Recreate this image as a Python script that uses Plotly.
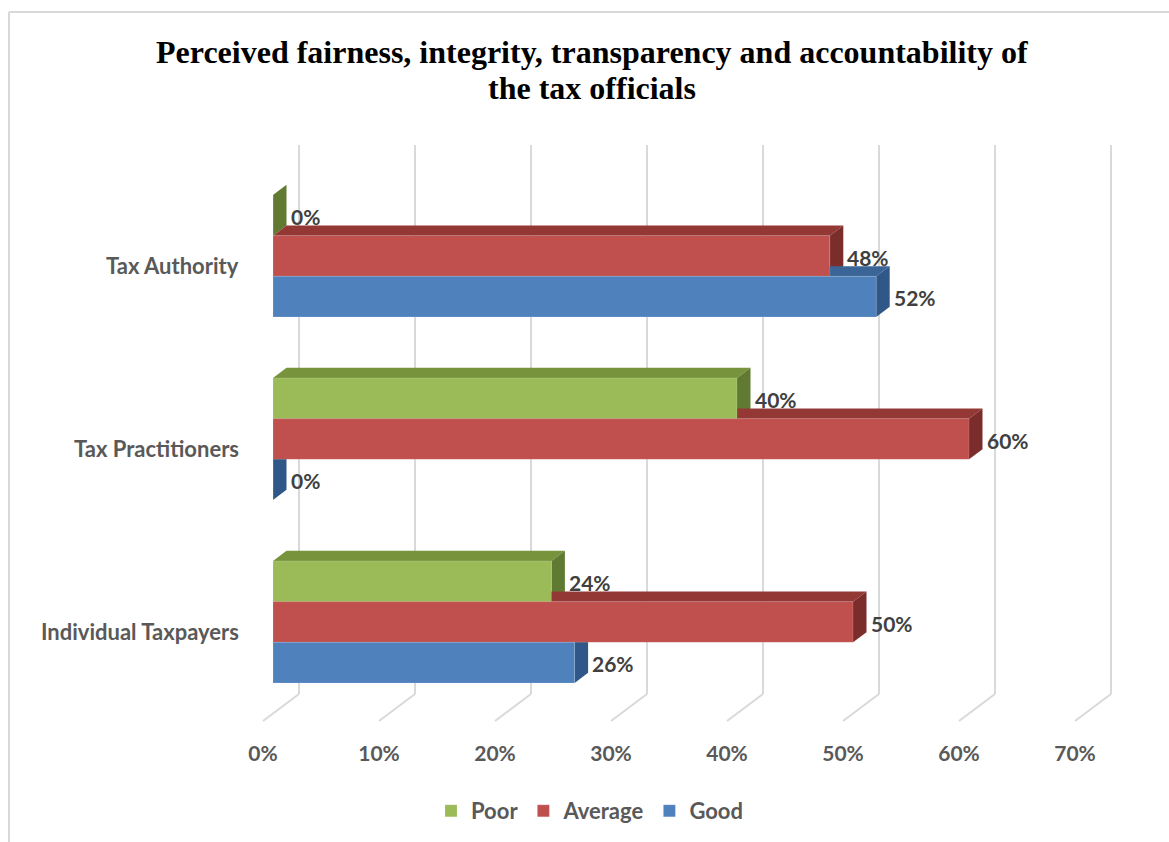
import plotly.graph_objects as go

# ---- data -------------------------------------------------------------
categories = ["Individual Taxpayers", "Tax Practitioners", "Tax Authority"]  # bottom -> top
series_names = ["Poor", "Average", "Good"]
poor = [24, 40, 0]
average = [50, 60, 48]
good = [26, 0, 52]
tick_values = [0, 10, 20, 30, 40, 50, 60, 70]
tick_labels = [f"{t}%" for t in tick_values]
title_lines = ["Perceived fairness, integrity, transparency and accountability of",
               "the tax officials"]

front_colors = {"Poor": "#9BBB59", "Average": "#C0504D", "Good": "#4F81BD"}
top_colors = {"Poor": "#77933C", "Average": "#943836", "Good": "#3B6597"}
side_colors = {"Poor": "#617A31", "Average": "#7B2D2B", "Good": "#2F5787"}

values = {"Poor": poor, "Average": average, "Good": good}

# ---- geometry of the oblique 3-D projection --------------------------
W, H = 1169, 842
PX_PER_PCT = 11.6          # horizontal pixels per percentage point
PX_PER_CAT = 183.0         # vertical pixels per category slot
ORIGIN_X = 273             # pixel x of 0% on the bar front plane
ORIGIN_Y = 622             # pixel y of the first category centre
SLANT = 0.75               # vertical rise per horizontal pixel of depth

BAR_W = 1 / 4.5            # bar thickness in category units (gap width 150%)
offsets = {"Poor": BAR_W, "Average": 0.0, "Good": -BAR_W}
BAR_DEPTH = 13.5           # pixels of depth of each bar
WALL_DEPTH = 26            # back wall behind the bar front plane
FLOOR_FRONT = -10          # front edge of the floor

x_range = [-ORIGIN_X / PX_PER_PCT, (W - ORIGIN_X) / PX_PER_PCT]
y_range = [-(H - ORIGIN_Y) / PX_PER_CAT, ORIGIN_Y / PX_PER_CAT]

SANS = "Lato"


def depth(d):
    """Shift (in axis units) produced by moving d pixels back in depth."""
    return d / PX_PER_PCT, SLANT * d / PX_PER_CAT


def path(points):
    return "M " + " L ".join(f"{x:.4f},{y:.4f}" for x, y in points) + " Z"


fig = go.Figure()
shapes = []

# ---- back wall gridlines and floor lines ----------------------------
wx, wy = depth(WALL_DEPTH)
fx, fy = depth(FLOOR_FRONT)
y_lo, y_hi = -0.5, len(categories) - 0.5
grid_style = dict(color="#D9D9D9", width=2)
for t in tick_values:
    shapes.append(dict(type="line", xref="x", yref="y", layer="below",
                       x0=t + wx, y0=y_lo + wy, x1=t + wx, y1=y_hi + wy,
                       line=grid_style))
    shapes.append(dict(type="line", xref="x", yref="y", layer="below",
                       x0=t + wx, y0=y_lo + wy, x1=t + fx, y1=y_lo + fy,
                       line=grid_style))

# ---- bars: front faces as traces, top and side faces as shapes -------
bx, by = depth(BAR_DEPTH)
annotations = []
for name in series_names:
    ys = [i + offsets[name] for i in range(len(categories))]
    fig.add_trace(go.Bar(
        x=values[name], y=ys, orientation="h", width=BAR_W, base=0,
        name=name, marker=dict(color=front_colors[name],
                               line=dict(color="rgba(255,255,255,0.25)", width=0.6)),
        hoverinfo="skip",
    ))
    for v, yc in zip(values[name], ys):
        top, bot = yc + BAR_W / 2, yc - BAR_W / 2
        shapes.append(dict(type="path", xref="x", yref="y", layer="between",
                           path=path([(0, top), (v, top), (v + bx, top + by), (bx, top + by)]),
                           fillcolor=top_colors[name], line=dict(width=0)))
        shapes.append(dict(type="path", xref="x", yref="y", layer="between",
                           path=path([(v, bot), (v, top), (v + bx, top + by), (v + bx, bot + by)]),
                           fillcolor=side_colors[name], line=dict(width=0)))
        annotations.append(dict(x=v, y=yc, xref="x", yref="y", text=f"{v}%",
                                showarrow=False, xanchor="left", yanchor="middle",
                                xshift=BAR_DEPTH + 2, yshift=-1,
                                font=dict(family=SANS, size=21, color="#404040", weight="bold")))

# ---- category labels ------------------------------------------------
for i, cat in enumerate(categories):
    annotations.append(dict(x=0, y=i, xref="x", yref="y", text=cat, showarrow=False,
                            xanchor="right", yanchor="middle", xshift=-32, yshift=-9,
                            font=dict(family=SANS, size=22, color="#595959", weight="bold")))

# ---- title (two lines, set individually for their spacing) ----------
for line, ypx in zip(title_lines, [52, 88]):
    annotations.append(dict(x=592 / W, y=1 - ypx / H, xref="paper", yref="paper",
                            text=f"<b>{line}</b>", showarrow=False,
                            xanchor="center", yanchor="middle",
                            font=dict(family="Liberation Serif", size=32, color="black")))

# ---- chart border ---------------------------------------------------
border = dict(color="#D9D9D9", width=2)
shapes.append(dict(type="line", xref="paper", yref="paper", x0=9 / W, x1=9 / W,
                   y0=0, y1=1 - 12 / H, line=border, layer="below"))
shapes.append(dict(type="line", xref="paper", yref="paper", x0=9 / W, x1=1,
                   y0=1 - 12 / H, y1=1 - 12 / H, line=border, layer="below"))

fig.update_layout(
    width=W, height=H,
    margin=dict(l=0, r=0, t=0, b=0),
    plot_bgcolor="white", paper_bgcolor="white",
    barmode="overlay",
    shapes=shapes,
    annotations=annotations,
    xaxis=dict(range=x_range, visible=False, fixedrange=True),
    xaxis2=dict(range=[x_range[0] - fx, x_range[1] - fx], overlaying="x", anchor="free",
                position=1 - 739 / H, side="bottom", showgrid=False, zeroline=False,
                showline=False, ticks="", tickmode="array",
                tickvals=tick_values, ticktext=tick_labels,
                tickfont=dict(family=SANS, size=21, color="#595959", weight="bold")),
    yaxis=dict(range=y_range, visible=False, fixedrange=True),
    legend=dict(orientation="h", x=590 / W, xanchor="center", y=1 - 811 / H, yanchor="middle",
                traceorder="normal",
                font=dict(family=SANS, size=22, color="#595959", weight="bold")),
    showlegend=True,
)

# an empty trace puts the tick axis in use
fig.add_trace(go.Scatter(x=[], y=[], xaxis="x2", showlegend=False, hoverinfo="skip"))

fig.write_html("out.html")
